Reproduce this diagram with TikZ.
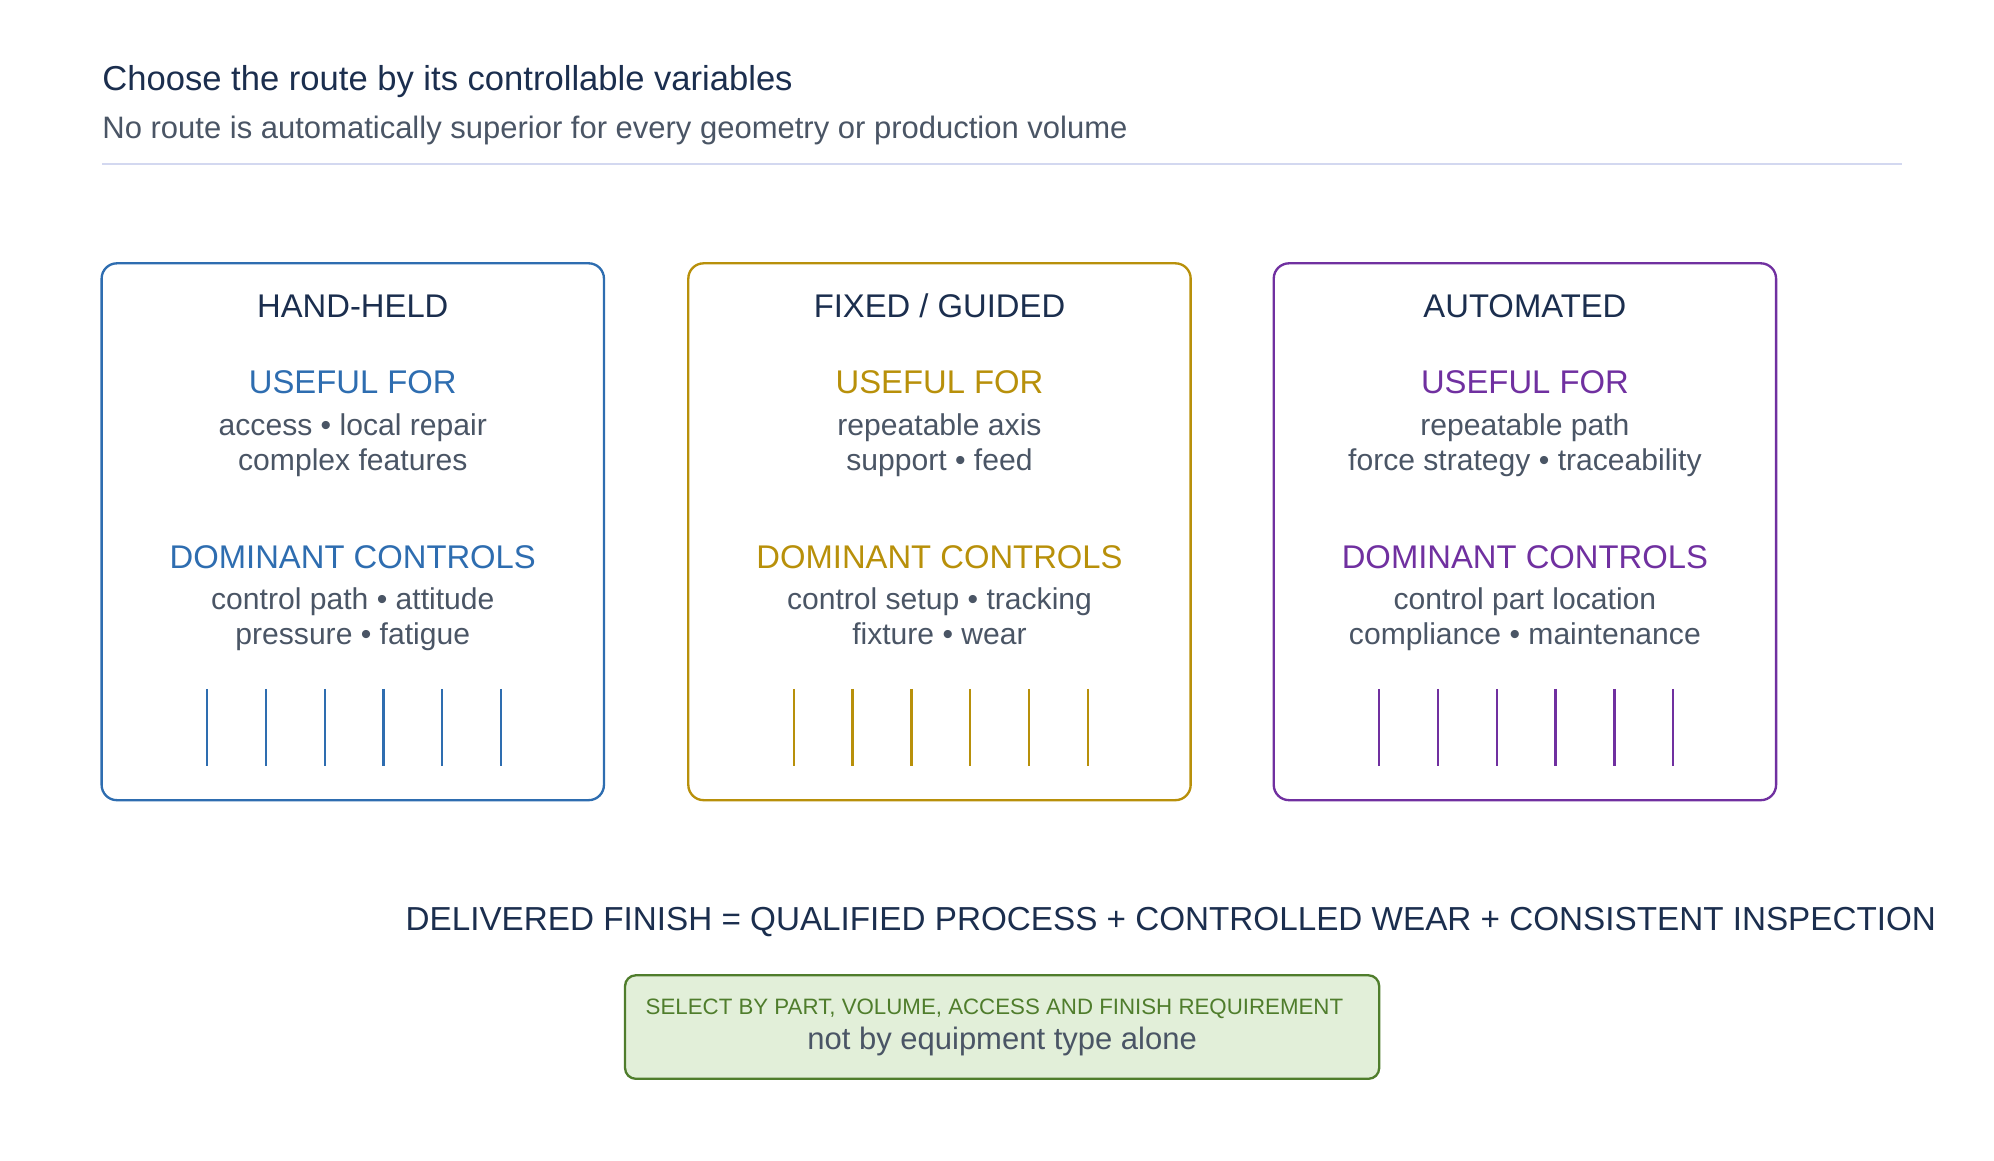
\documentclass[tikz,border=0pt]{standalone}
\usepackage{fontspec}
\setmainfont{Liberation Sans}
\definecolor{navy}{HTML}{1B2E4E}
\definecolor{txtgray}{HTML}{4A5565}
\definecolor{rulecol}{HTML}{D3D8F0}
\definecolor{handblue}{HTML}{2E6DB0}
\definecolor{fixgold}{HTML}{B8900A}
\definecolor{autopurple}{HTML}{7030A0}
\definecolor{selgreen}{HTML}{4F7D2C}
\definecolor{selfill}{HTML}{E2EFD9}
\newcommand{\fs}[1]{\fontsize{#1}{#1}\selectfont}
\tikzset{
  routebox/.style={draw=#1, line width=2.6pt, rounded corners=17pt},
  headtxt/.style={text=navy, font=\fs{36.5pt}, anchor=base},
  sectxt/.style={text=#1, font=\fs{36.5pt}, anchor=base},
  bodytxt/.style={text=txtgray, font=\fs{33.5pt}, anchor=base},
  tick/.style={draw=#1, line width=2.6pt}
}
\begin{document}
\begin{tikzpicture}[x=0.05cm, y=-0.05cm]
	% Marco
		\useasboundingbox (0,0) rectangle (1560,908);
	% Titulo
		\node[text=navy, font=\fs{38.5pt}, anchor=base west, inner sep=0] (title) at (80,71) {Choose the route by its controllable variables};
		\node[text=txtgray, font=\fs{34.5pt}, anchor=base west, inner sep=0] (subtitle) at (80,108) {No route is automatically superior for every geometry or production volume};
		\draw[rulecol, line width=2pt] (80,128) -- (1488,128);
	% Cajas
		\foreach \cx/\col/\name/\ua/\ub/\da/\db [count=\i] in {
			276/handblue/{HAND-HELD}/{access • local repair}/{complex features}/{control path • attitude}/{pressure • fatigue},
			735/fixgold/{FIXED / GUIDED}/{repeatable axis}/{support • feed}/{control setup • tracking}/{fixture • wear},
			1193/autopurple/{AUTOMATED}/{repeatable path}/{force strategy • traceability}/{control part location}/{compliance • maintenance}}{
			\draw[routebox=\col] (\cx-196.5,206) rectangle (\cx+196.5,626);
			\node[headtxt] (head\i) at (\cx,248) {\name};
			\node[sectxt=\col] (use\i) at (\cx,308) {USEFUL FOR};
			\node[bodytxt] (usea\i) at (\cx,341) {\ua};
			\node[bodytxt] (useb\i) at (\cx,368) {\ub};
			\node[sectxt=\col] (dom\i) at (\cx,445) {DOMINANT CONTROLS};
			\node[bodytxt] (doma\i) at (\cx,477) {\da};
			\node[bodytxt] (domb\i) at (\cx,504) {\db};
			\foreach \k in {0,...,5}
				\draw[tick=\col] (\cx-114+46*\k,539) -- (\cx-114+46*\k,599);
		}
	% Ecuacion
		\node[text=navy, font=\fs{37pt}, anchor=base] (formula) at (916,728) {DELIVERED FINISH = QUALIFIED PROCESS + CONTROLLED WEAR + CONSISTENT INSPECTION};
	% Seleccion
		\draw[draw=selgreen, fill=selfill, line width=2.6pt, rounded corners=12pt] (489,763) rectangle (1079,844);
		\node[text=selgreen, font=\fs{24.8pt}, anchor=base] (selby) at (778,794) {SELECT BY PART, VOLUME, ACCESS AND FINISH REQUIREMENT};
		\node[text=txtgray, font=\fs{34.5pt}, anchor=base] (notby) at (784,821) {not by equipment type alone};
\end{tikzpicture}
\end{document}
